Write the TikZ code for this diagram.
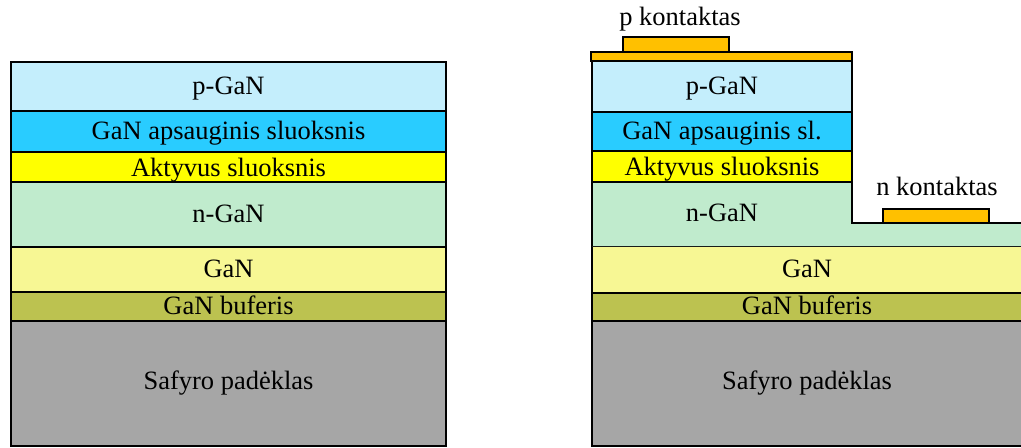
\documentclass[tikz,border=0pt]{standalone}
\usepackage{fontspec}
\setmainfont{Liberation Serif}
\definecolor{pgan}{HTML}{C4EEFC}
\definecolor{apsaug}{HTML}{29CCFF}
\definecolor{aktyv}{HTML}{FFFF00}
\definecolor{ngan}{HTML}{C0EBCD}
\definecolor{gan}{HTML}{F7F794}
\definecolor{bufer}{HTML}{BCC250}
\definecolor{safyr}{HTML}{A6A6A6}
\definecolor{kontakt}{HTML}{FFC000}
\tikzset{
  layer/.style={draw=black, line width=2.3pt},
  lbl/.style={font=\fontsize{22.6}{27}\selectfont, inner sep=0pt,
    text height=0.68em, text depth=0.2em}
}
\begin{document}
\begin{tikzpicture}[x=0.03cm, y=-0.03cm]
    \useasboundingbox (0, 0) rectangle (1021, 447);

    % kairysis: visa struktura
    \draw[layer, fill=pgan] (11, 62) rectangle (446, 111);
    \draw[layer, fill=apsaug] (11, 111) rectangle (446, 152);
    \draw[layer, fill=aktyv] (11, 152) rectangle (446, 182);
    \draw[layer, fill=ngan] (11, 182) rectangle (446, 247);
    \draw[layer, fill=gan] (11, 247) rectangle (446, 292);
    \draw[layer, fill=bufer] (11, 292) rectangle (446, 321);
    \draw[layer, fill=safyr] (11, 321) rectangle (446, 446);

    \node[lbl] (pganA) at (228.5, 92) {p-GaN};
    \node[lbl] (apsaugA) at (228.5, 137) {GaN apsauginis sluoksnis};
    \node[lbl] (aktyvA) at (228.5, 174) {Aktyvus sluoksnis};
    \node[lbl] (nganA) at (228.5, 220) {n-GaN};
    \node[lbl] (ganA) at (228.5, 275) {GaN};
    \node[lbl] (buferA) at (228.5, 312) {GaN buferis};
    \node[lbl] (safyrA) at (228.5, 387) {Safyro padėklas};

    % desinysis: mesa su kontaktais
    \draw[layer, fill=safyr] (592, 321) rectangle (1030, 446);
    \draw[layer, fill=bufer] (592, 293) rectangle (1030, 321);
    \draw[layer, fill=gan] (592, 246) rectangle (1030, 293);
    \fill[ngan] (592, 182) -- (852, 182) -- (852, 223) -- (1030, 223) -- (1030, 246) -- (592, 246) -- cycle;
    \draw[layer] (592, 246) -- (592, 182) -- (852, 182) -- (852, 223) -- (1030, 223);
    \draw[layer, fill=aktyv] (592, 151) rectangle (852, 182);
    \draw[layer, fill=apsaug] (592, 112) rectangle (852, 151);
    \draw[layer, fill=pgan] (592, 61) rectangle (852, 112);
    \draw[layer, fill=kontakt] (591, 52) rectangle (852, 61);
    \draw[layer, fill=kontakt] (623, 37) rectangle (729, 52);
    \draw[layer, fill=kontakt] (883, 209) rectangle (989, 223);

    \node[lbl] (pganB) at (722, 92) {p-GaN};
    \node[lbl] (apsaugB) at (722, 137) {GaN apsauginis sl.};
    \node[lbl] (aktyvB) at (722, 173) {Aktyvus sluoksnis};
    \node[lbl] (nganB) at (722, 219) {n-GaN};
    \node[lbl] (ganB) at (807, 275) {GaN};
    \node[lbl] (buferB) at (807, 312) {GaN buferis};
    \node[lbl] (safyrB) at (807, 387) {Safyro padėklas};
    \node[lbl] (pkont) at (680, 23) {p kontaktas};
    \node[lbl] (nkont) at (937, 193) {n kontaktas};
\end{tikzpicture}
\end{document}
